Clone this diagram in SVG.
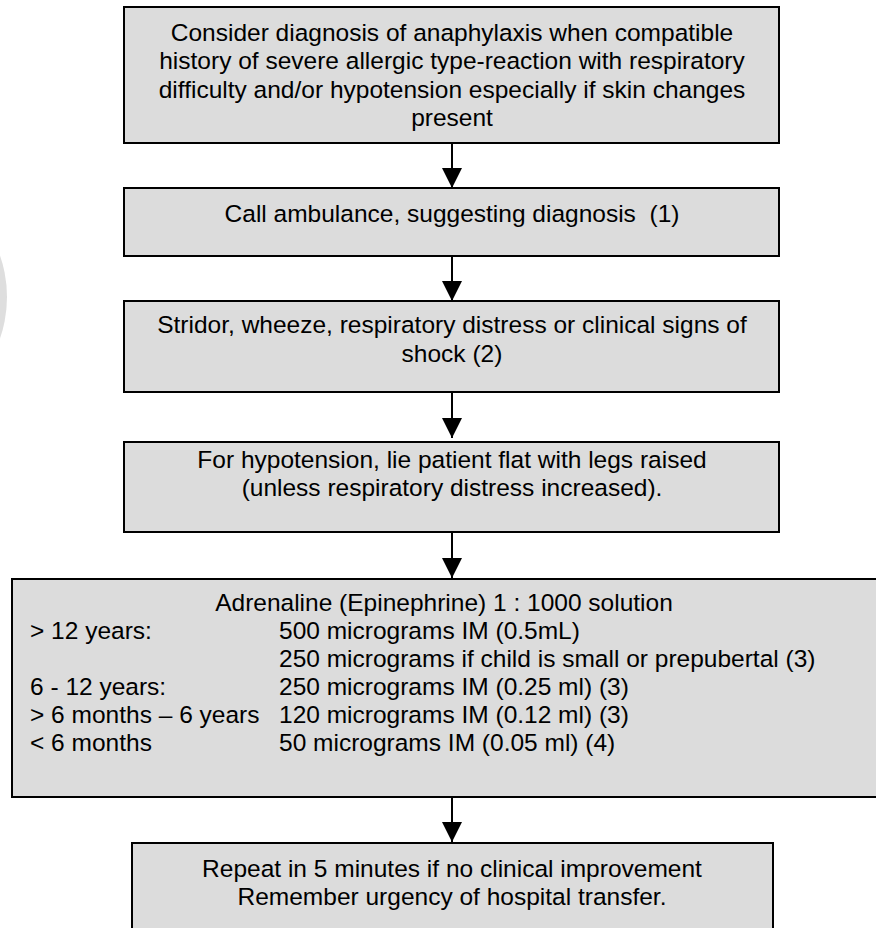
<svg xmlns="http://www.w3.org/2000/svg" width="876" height="928" viewBox="0 0 876 928">
<style>
.box{fill:#dcdcdc;stroke:#000;stroke-width:2}
text{font-family:"Liberation Sans",Arial,sans-serif;font-size:24.5px;fill:#000}
.c{text-anchor:middle}
.conn{stroke:#000;stroke-width:2;fill:none}
</style>
<defs>
<marker id="ah" markerUnits="userSpaceOnUse" markerWidth="20" markerHeight="20" refX="20" refY="10" orient="auto">
<path d="M0,0 L20,10 L0,20 Z" fill="#000"/>
</marker>
</defs>
<rect width="876" height="928" fill="#fff"/>
<circle cx="-120" cy="297" r="127" fill="#dedede"/>
<g id="n1">
<rect class="box" x="124" y="7" width="655" height="136"/>
<text class="c" x="452" y="41">Consider diagnosis of anaphylaxis when compatible</text>
<text class="c" x="452" y="69">history of severe allergic type-reaction with respiratory</text>
<text class="c" x="452" y="98">difficulty and/or hypotension especially if skin changes</text>
<text class="c" x="452" y="126">present</text>
</g>
<g id="n2">
<rect class="box" x="124" y="188" width="655" height="68"/>
<text class="c" x="452" y="222" xml:space="preserve">Call ambulance, suggesting diagnosis  (1)</text>
</g>
<g id="n3">
<rect class="box" x="124" y="301" width="655" height="91"/>
<text class="c" x="452" y="333">Stridor, wheeze, respiratory distress or clinical signs of</text>
<text class="c" x="452" y="362">shock (2)</text>
</g>
<g id="n4">
<rect class="box" x="124" y="442" width="655" height="90"/>
<text class="c" x="452" y="468">For hypotension, lie patient flat with legs raised</text>
<text class="c" x="452" y="496">(unless respiratory distress increased).</text>
</g>
<g id="n5">
<rect class="box" x="12" y="579" width="880" height="218"/>
<text class="c" x="444" y="611">Adrenaline (Epinephrine) 1 : 1000 solution</text>
<text x="30" y="639">&gt; 12 years:</text>
<text x="279" y="639">500 micrograms IM (0.5mL)</text>
<text x="279" y="667">250 micrograms if child is small or prepubertal (3)</text>
<text x="30" y="695">6 - 12 years:</text>
<text x="279" y="695">250 micrograms IM (0.25 ml) (3)</text>
<text x="30" y="723">&gt; 6 months – 6 years</text>
<text x="279" y="723">120 micrograms IM (0.12 ml) (3)</text>
<text x="30" y="751">&lt; 6 months</text>
<text x="279" y="751">50 micrograms IM (0.05 ml) (4)</text>
</g>
<g id="n6">
<rect class="box" x="132" y="843" width="641" height="100"/>
<text class="c" x="452" y="877">Repeat in 5 minutes if no clinical improvement</text>
<text class="c" x="452" y="905">Remember urgency of hospital transfer.</text>
</g>
<g id="connectors">
<line class="conn" x1="452" y1="143" x2="452" y2="188" marker-end="url(#ah)"/>
<line class="conn" x1="452" y1="256" x2="452" y2="301" marker-end="url(#ah)"/>
<line class="conn" x1="452" y1="392" x2="452" y2="438" marker-end="url(#ah)"/>
<line class="conn" x1="452" y1="532" x2="452" y2="578" marker-end="url(#ah)"/>
<line class="conn" x1="452" y1="797" x2="452" y2="842" marker-end="url(#ah)"/>
</g>
</svg>
